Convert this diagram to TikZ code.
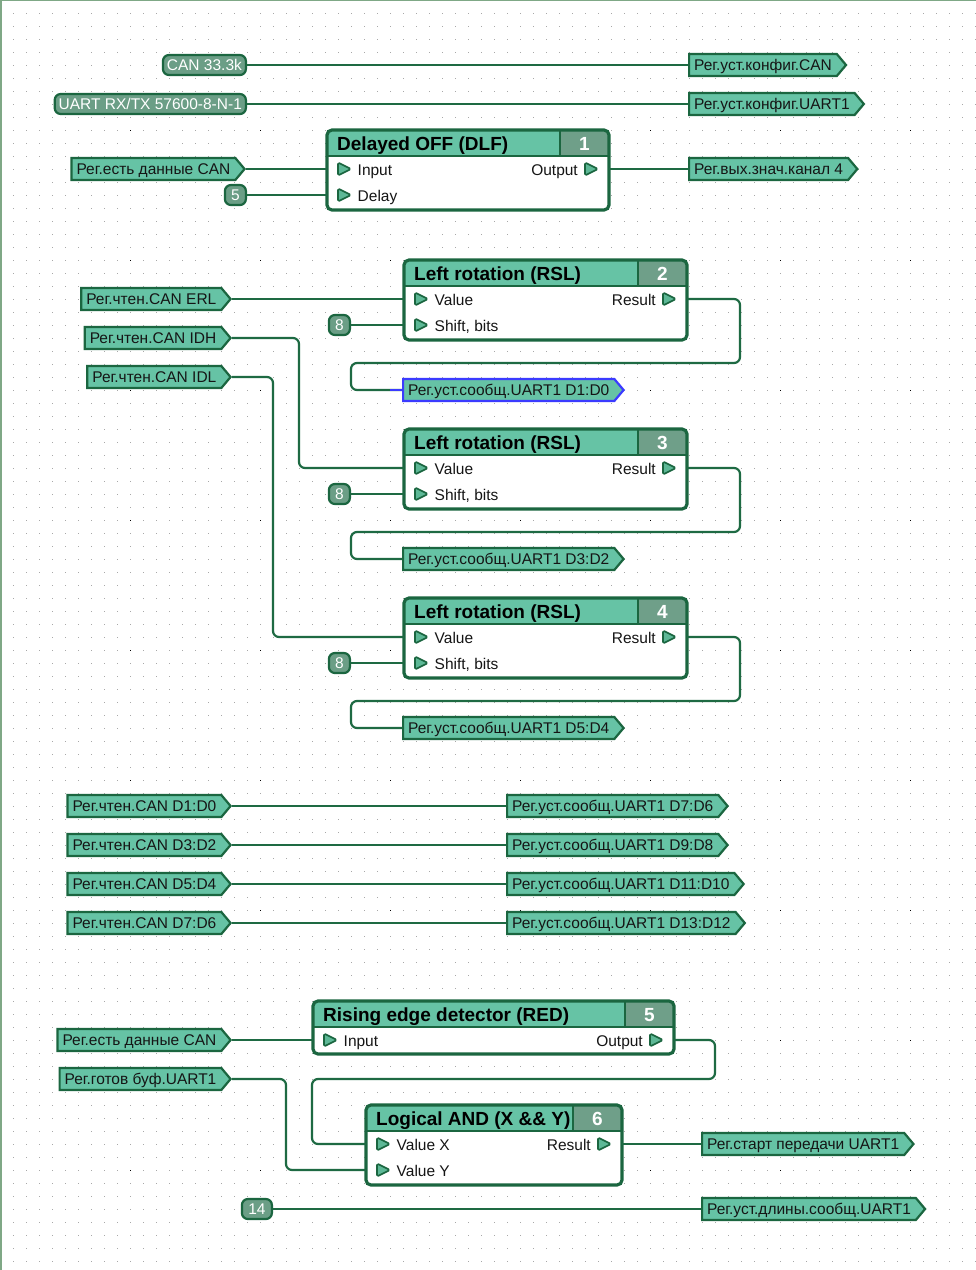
\documentclass[tikz,border=0pt]{standalone}
\usepackage{fontspec}
\setmainfont{Liberation Sans}
\usetikzlibrary{shapes.symbols}

\definecolor{dk}{HTML}{1B6640}
\definecolor{wc}{HTML}{1E6A43}
\definecolor{hdr}{HTML}{66C3A5}
\definecolor{numc}{HTML}{6F9F89}
\definecolor{constc}{HTML}{6B9E86}
\definecolor{tagc}{HTML}{66C3A5}
\definecolor{portc}{HTML}{5DB896}
\definecolor{gridc}{HTML}{A8A8A8}
\definecolor{edgec}{HTML}{7FA886}
\definecolor{selc}{HTML}{3B3BFF}
\definecolor{txt}{HTML}{151515}

\newcommand\fsz{\fontsize{15.5}{18}\selectfont}
\newcommand\ftl{\fontsize{19}{22}\selectfont\bfseries}

\tikzset{
  wire/.style={draw=wc, line width=2.2pt, rounded corners=6pt},
  const/.style={draw=dk, line width=2.2pt, fill=constc, rounded corners=6pt,
    text=white, font=\fsz, minimum height=20pt, inner xsep=4pt, inner ysep=0pt,
    text height=11.4pt, text depth=0pt},
  tag/.style={signal, signal to=east, signal from=nowhere, signal pointer angle=100,
    draw=dk, line width=2.2pt, fill=tagc, text=txt, font=\fsz,
    minimum height=22pt, inner xsep=5pt, inner ysep=0pt,
    text height=11.4pt, text depth=0pt},
  port/.style={draw=dk, fill=portc, line width=1.6pt, rounded corners=1.5pt, line join=round},
  plabel/.style={font=\fsz, text=txt, inner sep=0pt},
  ttl/.style={font=\ftl, text=black, inner sep=0pt},
  nmb/.style={font=\ftl, text=white, inner sep=0pt},
  frame/.style={draw=dk, line width=3.2pt, rounded corners=5pt},
  sep/.style={draw=dk, line width=1.2pt},
}

% function block: left, top, right, bottom, title, number
\newcommand\fnblock[6]{%
  \begin{scope}
    \clip[rounded corners=5pt] (#1,#2) rectangle (#3,#4);
    \fill[white] (#1,#2) rectangle (#3,#4);
    \fill[hdr] (#1,#2) rectangle (#3,#2+26);
    \fill[numc] (#3-49,#2) rectangle (#3,#2+26);
  \end{scope}
  \draw[sep] (#1,#2+26) -- (#3,#2+26);
  \draw[sep] (#3-49,#2) -- (#3-49,#2+26);
  \draw[frame] (#1,#2) rectangle (#3,#4);
  \node[ttl, anchor=base west] at (#1+10,#2+20.5) {#5};
  \node[nmb, anchor=base] at (#3-24.5,#2+20.5) {#6};
}
% input port: block left x, row y, label, coordinate name
\newcommand\inport[4]{%
  \draw[port] (#1+11,#2-6.5) -- (#1+24,#2) -- (#1+11,#2+6.5) -- cycle;
  \node[plabel, anchor=base west] at (#1+30.5,#2+6) {#3};
  \coordinate (#4) at (#1,#2);
}
% output port: block right x, row y, label, coordinate name
\newcommand\outport[4]{%
  \draw[port] (#1-24,#2-6.5) -- (#1-11,#2) -- (#1-24,#2+6.5) -- cycle;
  \node[plabel, anchor=base east] at (#1-31,#2+6) {#3};
  \coordinate (#4) at (#1,#2);
}

\begin{document}
\begin{tikzpicture}[x=1pt, y=-1pt]
\useasboundingbox (0,0) rectangle (976,1270);

% sheet and dot grid
\fill[white] (0,0) rectangle (976,1270);
\foreach \yy in {13,26,...,1261}
  \draw[gridc, line width=1pt, dash pattern=on 1pt off 12pt] (13,\yy+0.5) -- (976,\yy+0.5);
\foreach \gx in {130,260,...,910}
  \foreach \gy in {130,260,...,1170}
    \fill[black] (\gx,\gy) rectangle (\gx+1,\gy+1);
\fill[edgec] (0,0) rectangle (2,1270);
\fill[edgec] (0,0) rectangle (976,1.2);

% ---------- blocks ----------
\fnblock{327}{130}{609}{210}{Delayed OFF (DLF)}{1}
\inport{327}{169}{Input}{b1in}
\inport{327}{195}{Delay}{b1dl}
\outport{609}{169}{Output}{b1out}

\fnblock{404}{260}{687}{340}{Left rotation (RSL)}{2}
\inport{404}{299}{Value}{b2v}
\inport{404}{325}{Shift, bits}{b2s}
\outport{687}{299}{Result}{b2r}

\fnblock{404}{429}{687}{509}{Left rotation (RSL)}{3}
\inport{404}{468}{Value}{b3v}
\inport{404}{494}{Shift, bits}{b3s}
\outport{687}{468}{Result}{b3r}

\fnblock{404}{598}{687}{678}{Left rotation (RSL)}{4}
\inport{404}{637}{Value}{b4v}
\inport{404}{663}{Shift, bits}{b4s}
\outport{687}{637}{Result}{b4r}

\fnblock{313}{1001}{674}{1054}{Rising edge detector (RED)}{5}
\inport{313}{1040}{Input}{b5in}
\outport{674}{1040}{Output}{b5out}

\fnblock{366}{1105}{622}{1185}{Logical AND (X \&\& Y)}{6}
\inport{366}{1144}{Value X}{b6x}
\inport{366}{1170}{Value Y}{b6y}
\outport{622}{1144}{Result}{b6r}

% ---------- constants ----------
\node[const, anchor=east] (kcan) at (247,65) {CAN 33.3k};
\node[const, anchor=east] (kuart) at (247,104) {UART RX/TX 57600-8-N-1};
\node[const, anchor=east, minimum width=21pt, inner xsep=0pt] (k5) at (247,195) {5};
\node[const, anchor=east, minimum width=21pt, inner xsep=0pt] (k8a) at (351,325) {8};
\node[const, anchor=east, minimum width=21pt, inner xsep=0pt] (k8b) at (351,494) {8};
\node[const, anchor=east, minimum width=21pt, inner xsep=0pt] (k8c) at (351,663) {8};
\node[const, anchor=east, minimum width=30pt, inner xsep=0pt] (k14) at (273,1209) {14};

% ---------- input tags ----------
\node[tag, anchor=east] (iDat) at (246,169) {Рег.есть данные CAN};
\node[tag, anchor=east] (iErl) at (232,299) {Рег.чтен.CAN ERL};
\node[tag, anchor=east] (iIdh) at (232,338) {Рег.чтен.CAN IDH};
\node[tag, anchor=east] (iIdl) at (232,377) {Рег.чтен.CAN IDL};
\node[tag, anchor=east] (iD0) at (232,806) {Рег.чтен.CAN D1:D0};
\node[tag, anchor=east] (iD2) at (232,845) {Рег.чтен.CAN D3:D2};
\node[tag, anchor=east] (iD4) at (232,884) {Рег.чтен.CAN D5:D4};
\node[tag, anchor=east] (iD6) at (232,923) {Рег.чтен.CAN D7:D6};
\node[tag, anchor=east] (iDat2) at (232,1040) {Рег.есть данные CAN};
\node[tag, anchor=east] (iRdy) at (232,1079) {Рег.готов буф.UART1};

% ---------- output tags ----------
\node[tag, anchor=west] (oCan) at (688,65) {Рег.уст.конфиг.CAN};
\node[tag, anchor=west] (oUart) at (688,104) {Рег.уст.конфиг.UART1};
\node[tag, anchor=west] (oCh4) at (688,169) {Рег.вых.знач.канал 4};
\node[tag, anchor=west, draw=selc] (oM0) at (402,390) {Рег.уст.сообщ.UART1 D1:D0};
\node[tag, anchor=west] (oM2) at (402,559) {Рег.уст.сообщ.UART1 D3:D2};
\node[tag, anchor=west] (oM4) at (402,728) {Рег.уст.сообщ.UART1 D5:D4};
\node[tag, anchor=west] (oM6) at (506,806) {Рег.уст.сообщ.UART1 D7:D6};
\node[tag, anchor=west] (oM8) at (506,845) {Рег.уст.сообщ.UART1 D9:D8};
\node[tag, anchor=west] (oM10) at (506,884) {Рег.уст.сообщ.UART1 D11:D10};
\node[tag, anchor=west] (oM12) at (506,923) {Рег.уст.сообщ.UART1 D13:D12};
\node[tag, anchor=west] (oStart) at (701,1144) {Рег.старт передачи UART1};
\node[tag, anchor=west] (oLen) at (701,1209) {Рег.уст.длины.сообщ.UART1};

% ---------- wires ----------
\draw[wire] (kcan.east) -- (oCan.west);
\draw[wire] (kuart.east) -- (oUart.west);
\draw[wire] (iDat.east) -- (b1in);
\draw[wire] (k5.east) -- (b1dl);
\draw[wire] (b1out) -- (oCh4.west);

\draw[wire] (iErl.east) -- (b2v);
\draw[wire] (k8a.east) -- (b2s);
\draw[wire] (b2r) -- (740,299) -- (740,363) -- (351,363) -- (351,390) -- (oM0.west);
\draw[selc, line width=2.2pt] (390,390) -- (oM0.west);

\draw[wire] (iIdh.east) -- (299,338) -- (299,468) -- (b3v);
\draw[wire] (k8b.east) -- (b3s);
\draw[wire] (b3r) -- (740,468) -- (740,532) -- (351,532) -- (351,559) -- (oM2.west);

\draw[wire] (iIdl.east) -- (273,377) -- (273,637) -- (b4v);
\draw[wire] (k8c.east) -- (b4s);
\draw[wire] (b4r) -- (740,637) -- (740,701) -- (351,701) -- (351,728) -- (oM4.west);

\draw[wire] (iD0.east) -- (oM6.west);
\draw[wire] (iD2.east) -- (oM8.west);
\draw[wire] (iD4.east) -- (oM10.west);
\draw[wire] (iD6.east) -- (oM12.west);

\draw[wire] (iDat2.east) -- (b5in);
\draw[wire] (b5out) -- (715,1040) -- (715,1079) -- (312,1079) -- (312,1144) -- (b6x);
\draw[wire] (iRdy.east) -- (286,1079) -- (286,1170) -- (b6y);
\draw[wire] (b6r) -- (oStart.west);
\draw[wire] (k14.east) -- (oLen.west);
\end{tikzpicture}
\end{document}
